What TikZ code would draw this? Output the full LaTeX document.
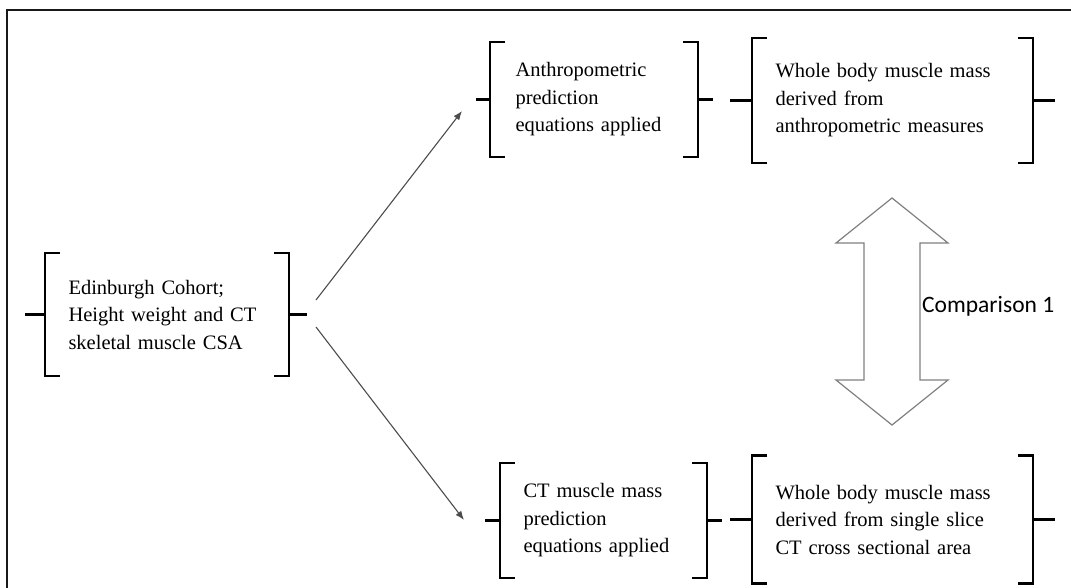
\documentclass[tikz,border=0pt]{standalone}
\usepackage{fontspec}
\setmainfont{Liberation Serif}
\newfontfamily\calibfont{Carlito}
\usetikzlibrary{arrows.meta}
\tikzset{
  bbox/.style={inner xsep=23pt, inner ysep=0pt, outer sep=0pt, align=left,
    font=\fontsize{20.5}{27.5}\selectfont, text=black},
  brk/.style={line width=2.3pt, color=black},
  flow/.style={line width=1.1pt, color=black!70, -{Latex[length=9pt,width=7pt]}},
  cmp/.style={line width=1.2pt, color=black!50, fill=white},
  frameline/.style={line width=2pt, color=black!90}
}
\newcommand\brkbox[3]{%
  \draw[brk] ([xshift=15pt]#1.north west) -- (#1.north west) -- (#1.south west) -- ([xshift=15pt]#1.south west);
  \draw[brk] ([xshift=-15pt]#1.north east) -- (#1.north east) -- (#1.south east) -- ([xshift=-15pt]#1.south east);
  \draw[brk] (#1.west) -- ++(-#2,0);
  \draw[brk] (#1.east) -- ++(#3,0);
}
\begin{document}
\begin{tikzpicture}[x=1pt,y=-1pt]
\useasboundingbox (0,0) rectangle (1071,587);
\draw[frameline] (7,590) -- (7,10) -- (1075,10);

\node[bbox, minimum width=244pt, minimum height=123pt, text width=197pt] (A) at (167,314.5)
  {Edinburgh Cohort;\\Height weight and CT\\skeletal muscle CSA};
\node[bbox, inner xsep=25pt, minimum width=208pt, minimum height=115pt, text width=157pt] (B) at (594,99.5)
  {Anthropometric\\prediction\\equations applied};
\node[bbox, minimum width=281pt, minimum height=125pt, text width=234pt] (C) at (892.5,100.5)
  {Whole body muscle mass\\derived from\\anthropometric measures};
\node[bbox, minimum width=207pt, minimum height=115pt, text width=160pt] (D) at (603.5,520.5)
  {CT muscle mass\\prediction\\equations applied};
\node[bbox, minimum width=281pt, minimum height=128pt, text width=234pt] (E) at (892.5,519.5)
  {Whole body muscle mass\\derived from single slice\\CT cross sectional area};

\brkbox{A}{20}{18}
\brkbox{B}{14}{15}
\brkbox{C}{22}{22}
\brkbox{D}{15}{15}
\brkbox{E}{22}{22}

\coordinate (Aup) at (316,300);
\coordinate (Bin) at (462,111);
\coordinate (Adn) at (316,327);
\coordinate (Din) at (464,520);
\draw[flow] (Aup) -- (Bin);
\draw[flow] (Adn) -- (Din);

\draw[cmp] (892,198) -- (948,243) -- (920,243) -- (920,380) -- (948,380) -- (892,425)
  -- (836,380) -- (864,380) -- (864,243) -- (836,243) -- cycle;
\node[anchor=base west, inner sep=0pt, font=\calibfont\fontsize{23.5}{28}\selectfont] (cmptext) at (922,312.5) {Comparison 1};
\end{tikzpicture}
\end{document}
